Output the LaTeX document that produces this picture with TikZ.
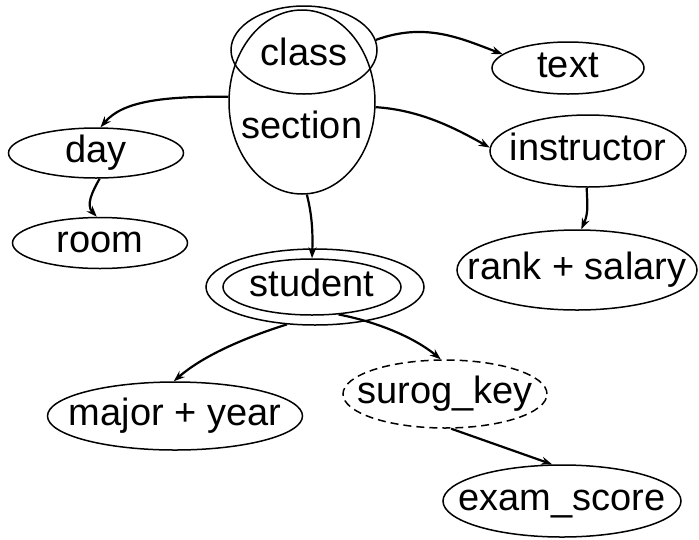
\documentclass[tikz,border=0pt]{standalone}
\usepackage{fontspec}
\setmainfont{Liberation Sans}
\usetikzlibrary{shapes.geometric,arrows.meta}
\tikzset{
  ent/.style={draw, ellipse, line width=1.5pt, inner sep=0pt},
  lbl/.style={font=\fontsize{38}{40}\selectfont, text height=26pt, text depth=8pt, inner sep=0pt},
  conn/.style={line width=2.2pt, -{Stealth[length=11pt,width=8pt]}},
}
\begin{document}
\begin{tikzpicture}[x=1pt,y=-1pt]
\useasboundingbox (0,0) rectangle (699,539);
% section and class (overlapping)
\node[ent, minimum width=146pt, minimum height=184pt] (section) at (302,102) {};
\node[ent, minimum width=146pt, minimum height=88pt] (class) at (304,50) {};
\node[lbl] (classlbl) at (304,56) {class};
\node[lbl] (sectionlbl) at (302,129) {section};
% others
\node[ent, minimum width=152pt, minimum height=52pt, label={[lbl]center:text}] (text) at (568,68) {};
\node[ent, minimum width=196pt, minimum height=72pt, label={[lbl]center:instructor}] (instructor) at (588,151) {};
\node[ent, minimum width=240pt, minimum height=80pt, label={[lbl]center:rank + salary}] (rank) at (577,270) {};
\node[ent, minimum width=175pt, minimum height=50pt, label={[lbl]center:day}] (day) at (96,153) {};
\node[ent, minimum width=175pt, minimum height=51pt, label={[lbl]center:room}] (room) at (100,243) {};
\node[ent, minimum width=218pt, minimum height=76pt] (studentout) at (315,287) {};
\node[ent, minimum width=178pt, minimum height=56pt, label={[lbl]center:student}] (studentin) at (312,287) {};
\node[ent, minimum width=255pt, minimum height=68pt, label={[lbl]center:major + year}] (major) at (175,416) {};
\node[ent, dash pattern=on 8pt off 5pt, minimum width=204pt, minimum height=68pt, label={[lbl]center:surog\_key}] (surog) at (445,394) {};
\node[ent, minimum width=238pt, minimum height=72pt, label={[lbl]center:exam\_score}] (exam) at (562,501) {};
% connectors
\draw[conn] (class.8) .. controls (425,22) and (460,38) .. (text.168);
\draw[conn] (section.-4) .. controls (420,110) and (455,128) .. (instructor.178);
\draw[conn] (section.176) .. controls (160,96) and (122,102) .. (day.80);
\draw[conn] (day.-82) .. controls (92,192) and (86,205) .. (room.97);
\draw[conn] (section.-87) .. controls (312,215) and (313,232) .. (studentin.90);
\draw[conn] (instructor.-92) .. controls (587,202) and (589,212) .. (rank.84);
\draw[conn] (studentout.-127) .. controls (250,336) and (205,354) .. (major.92);
\draw[conn] (studentin.-46) .. controls (378,322) and (415,338) .. (surog.97);
\draw[conn] (surog.-80) -- (exam.105);
\end{tikzpicture}
\end{document}
